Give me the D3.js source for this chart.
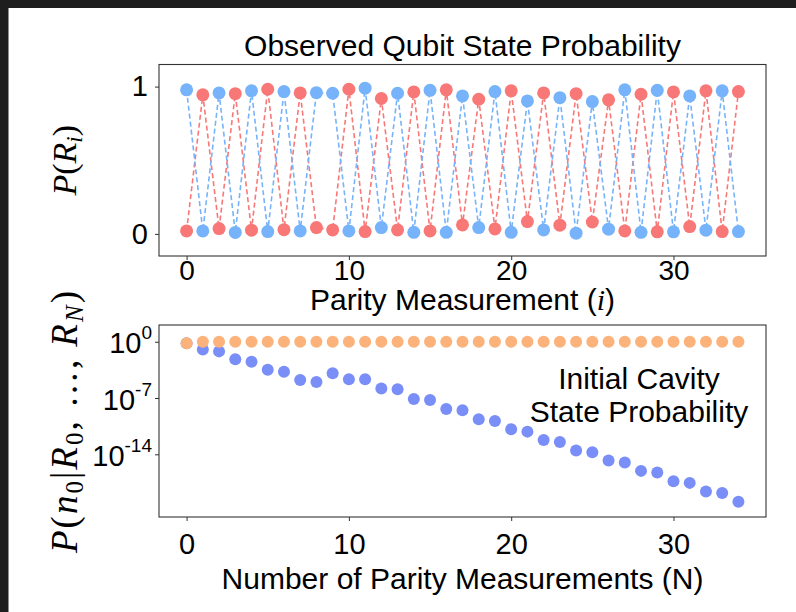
<!DOCTYPE html>
<html>
<head>
<meta charset="utf-8">
<script src="https://cdn.jsdelivr.net/npm/d3@7"></script>
<style>
  body { margin: 0; background: #fff; }
  text { font-family: "Liberation Sans", Arial, sans-serif; fill: #000; }
  .math { font-family: "Liberation Serif", "DejaVu Serif", serif; }
</style>
</head>
<body>
<div class="plot"></div>
<script>
// measurement index
let idx = [0,1,2,3,4,5,6,7,8,9,10,11,12,13,14,15,16,17,18,19,20,21,22,23,24,25,26,27,28,29,30,31,32,33,34];

// top panel: observed qubit state probability
let redProb  = [0.02,0.944,0.036,0.952,0.025,0.982,0.029,0.957,0.043,0.027,0.982,0.016,0.919,0.027,0.964,0.02,0.978,0.061,0.914,0.034,0.971,0.084,0.957,0.059,0.952,0.081,0.91,0.02,0.948,0.014,0.964,0.05,0.971,0.016,0.966];
let blueProb = [0.978,0.02,0.957,0.01,0.971,0.016,0.966,0.02,0.959,0.955,0.02,0.989,0.043,0.955,0.011,0.975,0.011,0.937,0.043,0.966,0.011,0.903,0.027,0.925,0.005,0.898,0.032,0.978,0.011,0.975,0.014,0.937,0.025,0.971,0.016];

// bottom panel: initial cavity state probability (log scale)
let cavityBlue = [6.3e-1,1.1e-1,6.3e-2,6.5e-3,3.3e-3,3.2e-4,1.9e-4,1.7e-5,1.0e-5,1.2e-4,2.1e-5,2.1e-5,1.5e-6,1.2e-6,7.6e-8,5.8e-8,4.4e-9,3.0e-9,2.3e-10,1.4e-10,1.3e-11,6.6e-12,6.2e-13,3.5e-13,2.9e-14,1.8e-14,1.7e-15,9.3e-16,8.7e-17,5.4e-17,4.6e-18,2.8e-18,2.3e-19,1.5e-19,1.3e-20];
let cavityOrange = [6.3e-1,1,1,1,1,1,1,1,1,1,1,1,1,1,1,1,1,1,1,1,1,1,1,1,1,1,1,1,1,1,1,1,1,1,1];

let xTicks = [0,10,20,30];
let topYTicks = [0,1];
let logYTicks = [0,-7,-14];

let width = 796, height = 612;
let left = 159, right = 766;
let top1 = 64.5, bottom1 = 256;
let top2 = 325, bottom2 = 517;

let svg = d3.select(".plot").append("svg")
    .attr("width", width).attr("height", height);

// dark screenshot border (top and left)
svg.append("rect").attr("x", 0).attr("y", 0).attr("width", width).attr("height", 8).attr("fill", "#1e1e1e");
svg.append("rect").attr("x", 0).attr("y", 0).attr("width", 8.5).attr("height", height).attr("fill", "#1e1e1e");

let xScale = d3.scaleLinear().domain([-1.7, 35.7]).range([left, right]);
let yTop = d3.scaleLinear().domain([-0.15, 1.15]).range([bottom1, top1]);
let yLog = d3.scaleLog().domain([1.6e-22, 1.2e2]).range([bottom2, top2]);

let RED = "#f87878", BLUE = "#76b3fa", PERI = "#7a8ef7", ORANGE = "#fcb37b";

function frame(t, b) {
    svg.append("rect")
        .attr("x", left).attr("y", t)
        .attr("width", right - left).attr("height", b - t)
        .attr("fill", "none").attr("stroke", "#333").attr("stroke-width", 1.1);
}

function styleAxis(g, size) {
    g.select(".domain").remove();
    g.selectAll(".tick line").attr("stroke", "#333");
    g.selectAll(".tick text").style("font-size", size + "px").attr("fill", "#000");
}

// ---------- top panel ----------
frame(top1, bottom1);

let lineGen = d3.line().x((d, i) => xScale(idx[i])).y(d => yTop(d));

[[redProb, RED], [blueProb, BLUE]].forEach(([series, color]) => {
    svg.append("path")
        .datum(series)
        .attr("d", lineGen)
        .attr("fill", "none")
        .attr("stroke", color)
        .attr("stroke-width", 1.6)
        .attr("stroke-dasharray", "5,3");
});
[[redProb, RED], [blueProb, BLUE]].forEach(([series, color]) => {
    svg.append("g").selectAll("circle")
        .data(series)
        .enter().append("circle")
        .attr("cx", (d, i) => xScale(idx[i]))
        .attr("cy", d => yTop(d))
        .attr("r", 6.5)
        .attr("fill", color);
});

svg.append("g")
    .attr("transform", "translate(0," + bottom1 + ")")
    .call(d3.axisBottom(xScale).tickValues(xTicks).tickSize(4).tickPadding(0))
    .call(g => styleAxis(g, 28));

svg.append("g")
    .attr("transform", "translate(" + left + ",0)")
    .call(d3.axisLeft(yTop).tickValues(topYTicks).tickFormat(d3.format("d")).tickSize(4).tickPadding(7))
    .call(g => styleAxis(g, 29));

svg.append("text")
    .attr("x", (left + right) / 2).attr("y", 56)
    .attr("text-anchor", "middle")
    .style("font-size", "30px")
    .text("Observed Qubit State Probability");

let xl1 = svg.append("text")
    .attr("x", (left + right) / 2).attr("y", 310)
    .attr("text-anchor", "middle")
    .style("font-size", "30px");
xl1.append("tspan").text("Parity Measurement (");
xl1.append("tspan").attr("class", "math").style("font-style", "italic").text("i");
xl1.append("tspan").text(")");

let yl1 = svg.append("text")
    .attr("class", "math")
    .attr("transform", "translate(76," + ((top1 + bottom1) / 2) + ") rotate(-90)")
    .attr("text-anchor", "middle")
    .style("font-size", "34px");
yl1.append("tspan").style("font-style", "italic").text("P");
yl1.append("tspan").text("(");
yl1.append("tspan").style("font-style", "italic").text("R");
yl1.append("tspan").style("font-style", "italic").style("font-size", "23px").attr("dy", 6).text("i");
yl1.append("tspan").attr("dy", -6).text(")");

// ---------- bottom panel ----------
frame(top2, bottom2);

svg.append("g").selectAll("circle")
    .data(cavityBlue)
    .enter().append("circle")
    .attr("cx", (d, i) => xScale(idx[i]))
    .attr("cy", d => yLog(d))
    .attr("r", 6)
    .attr("fill", PERI);

svg.append("g").selectAll("circle")
    .data(cavityOrange)
    .enter().append("circle")
    .attr("cx", (d, i) => xScale(idx[i]))
    .attr("cy", d => yLog(d))
    .attr("r", 6)
    .attr("fill", ORANGE);

svg.append("g")
    .attr("transform", "translate(0," + bottom2 + ")")
    .call(d3.axisBottom(xScale).tickValues(xTicks).tickSize(4).tickPadding(12))
    .call(g => styleAxis(g, 29));

let yAx2 = svg.append("g")
    .attr("transform", "translate(" + left + ",0)")
    .call(d3.axisLeft(yLog).tickValues(logYTicks.map(e => Math.pow(10, e))).tickSize(4).tickFormat(""));
styleAxis(yAx2, 29);
yAx2.selectAll(".tick").each(function(d, i) {
    let t = d3.select(this).append("text")
        .attr("x", -7).attr("y", 11)
        .attr("text-anchor", "end")
        .attr("fill", "#000")
        .style("font-size", "29px");
    t.append("tspan").text("10");
    t.append("tspan").attr("dy", -14).style("font-size", "19px").text(String(logYTicks[i]));
});

let note = svg.append("text")
    .attr("text-anchor", "middle")
    .style("font-size", "30px");
note.append("tspan").attr("x", 639).attr("y", 389).text("Initial Cavity");
note.append("tspan").attr("x", 639).attr("y", 422).text("State Probability");

svg.append("text")
    .attr("x", (left + right) / 2).attr("y", 589)
    .attr("text-anchor", "middle")
    .style("font-size", "30px")
    .text("Number of Parity Measurements (N)");

let yl2 = svg.append("text")
    .attr("class", "math")
    .attr("transform", "translate(77,422) rotate(-90)")
    .attr("text-anchor", "middle")
    .attr("textLength", 262)
    .attr("lengthAdjust", "spacing")
    .style("font-size", "37px");
yl2.append("tspan").style("font-style", "italic").text("P");
yl2.append("tspan").text("(");
yl2.append("tspan").style("font-style", "italic").text("n");
yl2.append("tspan").style("font-size", "25px").attr("dy", 6).text("0");
yl2.append("tspan").attr("dy", -6).text("|");
yl2.append("tspan").style("font-style", "italic").text("R");
yl2.append("tspan").style("font-size", "25px").attr("dy", 6).text("0");
yl2.append("tspan").attr("dy", -6).text(", \u2026, ");
yl2.append("tspan").style("font-style", "italic").text("R");
yl2.append("tspan").style("font-style", "italic").style("font-size", "25px").attr("dy", 6).text("N");
yl2.append("tspan").attr("dy", -6).text(")");
</script>
</body>
</html>
